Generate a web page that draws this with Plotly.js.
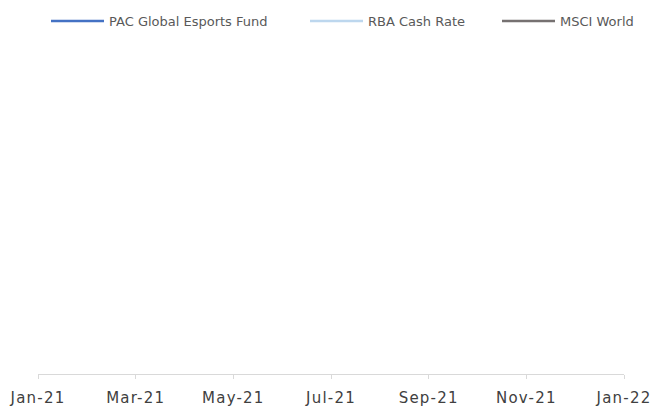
<!DOCTYPE html>
<html>
<head>
<meta charset="utf-8">
<script src="https://cdn.plot.ly/plotly-3.0.1.min.js"></script>
<style>
html,body{margin:0;padding:0;background:#fff;}
#chart{width:655px;height:407px;}
#chart .xtick text{letter-spacing:1.2px;}
</style>
</head>
<body>
<div id="chart"></div>
<script>
// Month categories on the x axis
const months = ['Jan-21','Feb-21','Mar-21','Apr-21','May-21','Jun-21','Jul-21','Aug-21','Sep-21','Oct-21','Nov-21','Dec-21','Jan-22'];
// Tick labels shown (every second month)
const tickLabels = ['Jan-21','Mar-21','May-21','Jul-21','Sep-21','Nov-21','Jan-22'];
// Series names
const seriesNames = ['PAC Global Esports Fund','RBA Cash Rate','MSCI World'];
// Series values: none are drawn in the reference (blank series)
const pacValues  = [null,null,null,null,null,null,null,null,null,null,null,null,null];
const rbaValues  = [null,null,null,null,null,null,null,null,null,null,null,null,null];
const msciValues = [null,null,null,null,null,null,null,null,null,null,null,null,null];
const colors = ['#4472C4','#BDD7EE','#767171'];

const allValues = [pacValues, rbaValues, msciValues];
const legendIds = ['legend','legend2','legend3'];
const traces = allValues.map((vals, i) => ({
  type: 'scatter', mode: 'lines',
  x: months, y: vals,
  name: seriesNames[i],
  legend: legendIds[i],
  line: {color: colors[i], width: 2.5},
  connectgaps: false
}));

const legendFont = {family: 'DejaVu Sans, sans-serif', size: 13, color: '#595959'};
function legendAt(px) {
  return {
    orientation: 'h', xref: 'container', yref: 'container',
    x: px / 655, xanchor: 'left', y: 1 - 6 / 407, yanchor: 'top',
    font: legendFont, itemwidth: 53, bgcolor: 'rgba(0,0,0,0)', borderwidth: 0
  };
}

const layout = {
  width: 655, height: 407,
  margin: {l: 38, r: 31, t: 40, b: 33},
  paper_bgcolor: '#ffffff', plot_bgcolor: '#ffffff',
  font: {family: 'DejaVu Sans, sans-serif', color: '#404040'},
  showlegend: true,
  legend: legendAt(46),
  legend2: legendAt(305),
  legend3: legendAt(497),
  xaxis: {
    type: 'category', categoryorder: 'array', categoryarray: months,
    range: [0, 12],
    tickmode: 'array', tickvals: tickLabels, ticktext: tickLabels,
    showline: true, linecolor: '#d9d9d9', linewidth: 1,
    ticks: 'outside', ticklen: 4, tickcolor: '#d9d9d9',
    ticklabelstandoff: 6,
    showgrid: false, zeroline: false,
    tickfont: {family: 'DejaVu Sans, sans-serif', size: 15, color: '#404040'}
  },
  yaxis: {visible: false, range: [0, 1], showgrid: false, zeroline: false}
};

Plotly.newPlot('chart', traces, layout, {displayModeBar: false, staticPlot: true});
</script>
</body>
</html>
